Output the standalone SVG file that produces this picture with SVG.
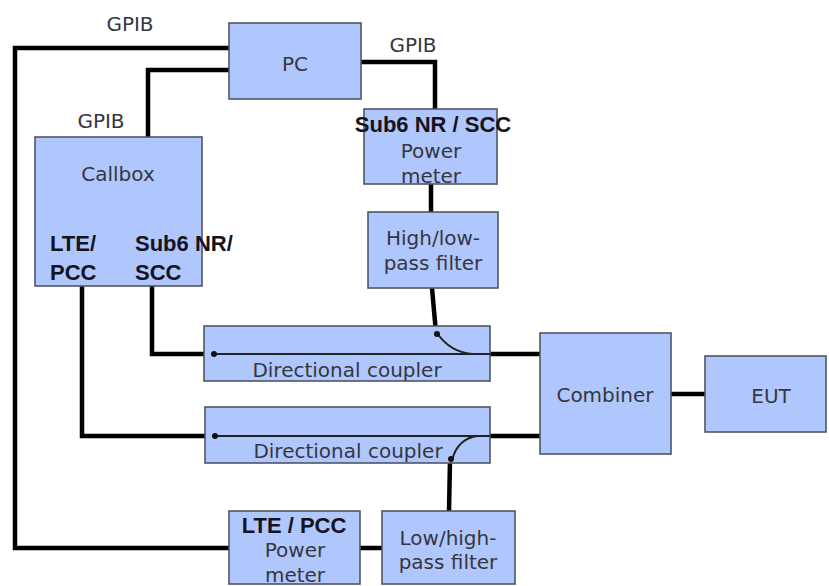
<svg xmlns="http://www.w3.org/2000/svg" width="829" height="586" viewBox="0 0 829 586">
<style>
.box{fill:#afc7fc;stroke:#4f5563;stroke-width:1.6}
.t{font-family:"DejaVu Sans","Liberation Sans",Arial,sans-serif;font-size:20px;fill:#363640;text-anchor:middle}
.b{font-family:"Liberation Sans",Arial,sans-serif;font-size:22px;font-weight:bold;fill:#15131c}
.w{fill:none;stroke:#000;stroke-width:4.5;stroke-linejoin:miter}
.thin{fill:none;stroke:#222;stroke-width:2}
.dot{fill:#111}
</style>
<rect width="829" height="586" fill="#fff"/>
<g id="connectors">
<polyline class="w" points="229,48 15,48 15,548 229,548"/>
<polyline class="w" points="229,70 148,70 148,137"/>
<polyline class="w" points="361,62 435,62 435,110"/>
<line class="w" x1="431" y1="184" x2="431" y2="212"/>
<polyline class="w" points="152,286 152,354 212,354"/>
<polyline class="w" points="82,286 82,436 212,436"/>
<polyline class="w" points="432,288 436,333"/>
<line class="w" x1="489" y1="354" x2="541" y2="354"/>
<line class="w" x1="489" y1="436" x2="541" y2="436"/>
<line class="w" x1="671" y1="394" x2="705" y2="394"/>
<line class="w" x1="360" y1="548" x2="382" y2="548"/>
<line class="w" x1="449" y1="511" x2="450" y2="460"/>
</g>
<g id="pc"><rect class="box" x="229" y="23" width="132" height="76"/><text class="t" x="295" y="71" font-size="25">PC</text></g>
<g id="callbox"><rect class="box" x="35" y="137" width="167" height="149"/><text class="t" x="118" y="181" font-size="27">Callbox</text>
<text class="b" x="50" y="251">LTE/</text><text class="b" x="50" y="280">PCC</text>
<text class="b" x="135" y="251">Sub6 NR/</text><text class="b" x="135" y="280">SCC</text></g>
<g id="sub6-meter"><rect class="box" x="364" y="109" width="133" height="75"/>
<text class="t" x="431" y="158">Power</text><text class="t" x="431" y="183">meter</text>
<text class="b" x="433" y="132" text-anchor="middle">Sub6 NR / SCC</text></g>
<g id="hp-filter"><rect class="box" x="368" y="212" width="130" height="76"/>
<text class="t" x="433" y="245">High/low-</text><text class="t" x="433" y="270">pass filter</text></g>
<g id="coupler1"><rect class="box" x="204" y="326" width="286" height="55"/>
<line class="thin" x1="212" y1="354" x2="490" y2="354"/>
<path class="thin" d="M437,333 Q450,352 472,354"/>
<circle class="dot" cx="214" cy="354" r="3"/><circle class="dot" cx="437" cy="334" r="3"/>
<text class="t" x="347" y="377">Directional coupler</text></g>
<g id="coupler2"><rect class="box" x="205" y="407" width="285" height="56"/>
<line class="thin" x1="212" y1="436" x2="490" y2="436"/>
<path class="thin" d="M452,460 Q458,438 478,436"/>
<circle class="dot" cx="215" cy="436" r="3"/><circle class="dot" cx="451" cy="459" r="3"/>
<text class="t" x="348" y="458">Directional coupler</text></g>
<g id="combiner"><rect class="box" x="540" y="333" width="131" height="121"/><text class="t" x="605" y="402">Combiner</text></g>
<g id="eut"><rect class="box" x="705" y="356" width="121" height="76"/><text class="t" x="771" y="403" font-size="24">EUT</text></g>
<g id="lte-meter"><rect class="box" x="229" y="511" width="131" height="73"/>
<text class="b" x="294" y="533" text-anchor="middle">LTE / PCC</text>
<text class="t" x="295" y="557">Power</text><text class="t" x="295" y="582">meter</text></g>
<g id="lp-filter"><rect class="box" x="382" y="511" width="133" height="73"/>
<text class="t" x="448" y="545">Low/high-</text><text class="t" x="448" y="569">pass filter</text></g>
<g id="labels">
<text class="t" x="130" y="31">GPIB</text>
<text class="t" x="413" y="52">GPIB</text>
<text class="t" x="101" y="128">GPIB</text>
</g>
</svg>
